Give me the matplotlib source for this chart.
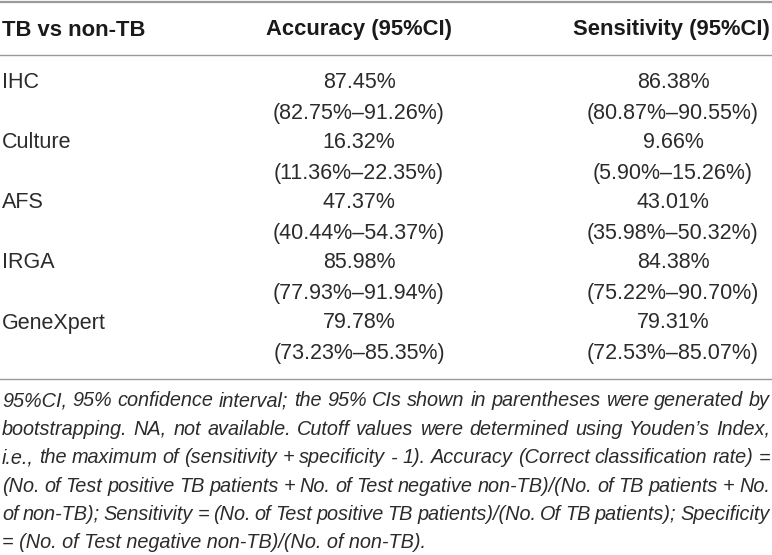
import matplotlib
matplotlib.use('Agg')
import matplotlib.pyplot as plt

methods = ["IHC", "Culture", "AFS", "IRGA", "GeneXpert"]
accuracy = [87.45, 16.32, 47.37, 85.98, 79.78]
acc_lo = [82.75, 11.36, 40.44, 77.93, 73.23]
acc_hi = [91.26, 22.35, 54.37, 91.94, 85.35]
sens = [86.38, 9.66, 43.01, 84.38, 79.31]
sens_lo = [80.87, 5.90, 35.98, 75.22, 72.53]
sens_hi = [90.55, 15.26, 50.32, 90.70, 85.07]

headers = ["TB vs non-TB", "Accuracy (95%CI)", "Sensitivity (95%CI)"]

footnote = [
    "95%CI, 95% confidence interval; the 95% CIs shown in parentheses were generated by",
    "bootstrapping. NA, not available. Cutoff values were determined using Youden\u2019s Index,",
    "i.e., the maximum of (sensitivity + specificity - 1). Accuracy (Correct classification rate) =",
    "(No. of Test positive TB patients + No. of Test negative non-TB)/(No. of TB patients + No.",
    "of non-TB); Sensitivity = (No. of Test positive TB patients)/(No. Of TB patients); Specificity",
    "= (No. of Test negative non-TB)/(No. of non-TB).",
]

W, H = 772, 555
fig = plt.figure(figsize=(W / 100, H / 100), dpi=100)
ax = fig.add_axes([0, 0, 1, 1])
ax.set_xlim(0, W)
ax.set_ylim(H, 0)
ax.axis('off')

txt = '#2b2b2b'
rule = '#9a9a9a'
font = 'Liberation Sans'
fs = 15.5
hfs = 15.8

# rules
ax.plot([0, W], [2, 2], color=rule, lw=1.6)
ax.plot([0, W], [55, 55], color=rule, lw=1.0)
ax.plot([0, W], [379, 379], color=rule, lw=1.0)

# header
col_x = [2, 359, 673]
ax.text(col_x[0], 30, headers[0], ha='left', va='center', fontsize=hfs,
        fontweight='bold', family=font, color='#1a1a1a')
ax.text(col_x[1], 30, headers[1], ha='center', va='center', fontsize=hfs,
        fontweight='bold', family=font, color='#1a1a1a')
ax.text(770, 30, headers[2], ha='right', va='center', fontsize=hfs,
        fontweight='bold', family=font, color='#1a1a1a')

# rows
for i, m in enumerate(methods):
    y1 = 83 + i * 60
    y2 = y1 + 31
    ax.text(col_x[0], y1, m, ha='left', va='center', fontsize=fs,
            family=font, color=txt)
    ax.text(col_x[1], y1, f"{accuracy[i]:.2f}%", ha='center', va='center',
            fontsize=fs, family=font, color=txt)
    ax.text(col_x[1], y2, f"({acc_lo[i]:.2f}%\u2013{acc_hi[i]:.2f}%)",
            ha='center', va='center', fontsize=fs, family=font, color=txt)
    ax.text(col_x[2], y1, f"{sens[i]:.2f}%", ha='center', va='center',
            fontsize=fs, family=font, color=txt)
    ax.text(col_x[2], y2, f"({sens_lo[i]:.2f}%\u2013{sens_hi[i]:.2f}%)",
            ha='center', va='center', fontsize=fs, family=font, color=txt)

# footnote, justified except the last line
fig.canvas.draw()
renderer = fig.canvas.get_renderer()
fn_fs = 14.3
left, right = 2, 770
for j, line in enumerate(footnote):
    y = 401 + j * 28.4
    words = line.split(' ')
    if j == len(footnote) - 1:
        ax.text(left, y, line, ha='left', va='center', fontsize=fn_fs,
                style='italic', family=font, color=txt)
        continue
    items = []
    total = 0
    for w in words:
        t = ax.text(0, y, w, ha='left', va='center', fontsize=fn_fs,
                    style='italic', family=font, color=txt)
        wd = t.get_window_extent(renderer).width
        items.append((t, wd))
        total += wd
    gap = (right - left - total) / (len(words) - 1)
    x = left
    for t, wd in items:
        t.set_x(x)
        x += wd + gap

fig.savefig('out.png', dpi=100)
